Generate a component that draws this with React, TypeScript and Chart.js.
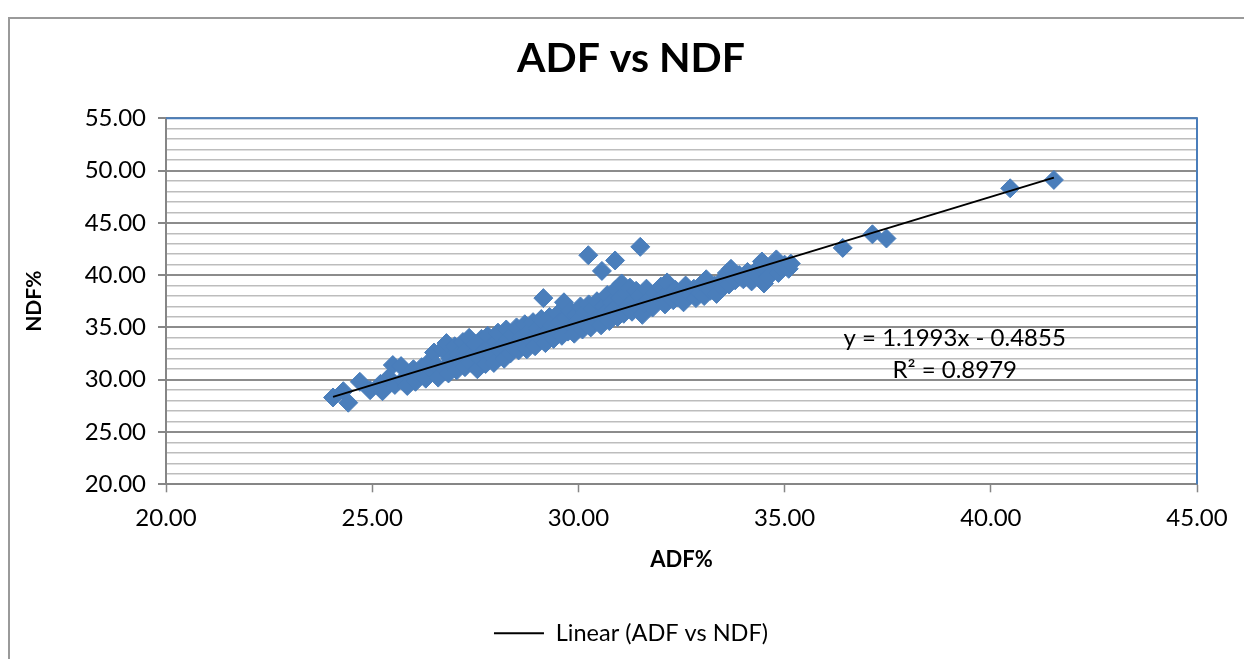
import React, { useEffect, useRef } from "react";
import { Chart, registerables } from "chart.js";

Chart.register(...registerables);

const adf: number[] = [
  24.05, 24.3, 24.42, 24.7, 24.95, 25.2, 25.25, 25.4, 25.5, 25.55,
  25.7, 25.75, 25.85, 25.9, 26.0, 26.05, 26.15, 26.2, 26.3, 26.35,
  26.45, 26.5, 26.55, 26.6, 26.7, 26.75, 26.8, 26.85, 26.9, 26.95,
  27.0, 27.05, 27.1, 27.15, 27.2, 27.25, 27.3, 27.35, 27.4, 27.45,
  27.5, 27.55, 27.6, 27.65, 27.7, 27.75, 27.8, 27.85, 27.9, 27.95,
  28.0, 28.05, 28.1, 28.15, 28.2, 28.25, 28.3, 28.35, 28.4, 28.45,
  28.5, 28.55, 28.6, 28.65, 28.7, 28.75, 28.8, 28.85, 28.9, 28.95,
  29.0, 29.05, 29.1, 29.15, 29.2, 29.25, 29.3, 29.35, 29.4, 29.45,
  29.5, 29.55, 29.6, 29.65, 29.7, 29.75, 29.8, 29.85, 29.9, 29.95,
  30.0, 30.05, 30.1, 30.15, 30.2, 30.24, 30.25, 30.3, 30.35, 30.4,
  30.45, 30.5, 30.55, 30.57, 30.6, 30.65, 30.7, 30.75, 30.8, 30.85,
  30.89, 30.9, 30.95, 31.0, 31.05, 31.1, 31.15, 31.2, 31.25, 31.3,
  31.35, 31.4, 31.45, 31.5, 31.5, 31.55, 31.6, 31.65, 31.7, 31.8,
  31.85, 31.9, 32.0, 32.05, 32.1, 32.15, 32.2, 32.3, 32.35, 32.4,
  32.5, 32.55, 32.6, 32.7, 32.8, 32.85, 32.95, 33.0, 33.05, 33.1,
  33.2, 33.3, 33.35, 33.45, 33.5, 33.6, 33.65, 33.7, 33.8, 33.9,
  34.0, 34.1, 34.2, 34.3, 34.4, 34.45, 34.5, 34.55, 34.6, 34.7,
  34.8, 34.85, 34.9, 35.0, 35.1, 35.15, 36.41, 37.13, 37.47, 40.47,
  41.53,
];

const ndf: number[] = [
  28.3, 28.9, 27.8, 29.8, 29.0, 29.6, 28.9, 30.2, 31.4, 29.5,
  31.3, 30.0, 29.4, 30.6, 31.0, 29.8, 30.4, 31.2, 30.1, 31.6,
  30.8, 32.6, 31.4, 30.2, 32.9, 31.1, 33.5, 30.6, 32.0, 31.5,
  33.2, 30.9, 32.4, 31.8, 33.6, 31.2, 32.9, 34.0, 31.6, 32.5,
  33.4, 31.0, 32.1, 33.9, 32.7, 31.5, 34.2, 33.1, 32.3, 31.6,
  33.6, 34.5, 32.8, 33.2, 32.0, 34.8, 33.9, 32.5, 34.3, 33.0,
  35.0, 32.8, 34.0, 33.5, 35.3, 32.9, 34.6, 33.8, 35.5, 33.2,
  34.9, 34.1, 35.8, 37.8, 33.5, 34.6, 36.0, 35.2, 33.9, 34.8,
  36.3, 35.5, 34.2, 37.4, 35.9, 34.6, 36.6, 35.1, 34.4, 36.2,
  35.6, 37.0, 34.8, 36.4, 35.3, 41.9, 37.2, 35.0, 36.8, 35.7,
  37.5, 36.1, 35.2, 40.4, 37.0, 36.4, 38.1, 35.6, 37.4, 36.7,
  41.4, 38.6, 36.0, 37.8, 39.2, 36.3, 38.2, 37.0, 38.8, 36.5,
  37.6, 38.5, 36.9, 42.7, 38.0, 36.2, 37.3, 38.7, 37.7, 36.9,
  38.3, 37.5, 38.9, 37.9, 37.2, 39.3, 38.2, 37.6, 38.6, 37.9,
  38.4, 37.4, 39.0, 38.1, 38.7, 37.8, 38.3, 39.2, 38.0, 39.6,
  38.5, 39.0, 38.2, 39.4, 38.8, 40.2, 39.1, 40.6, 39.5, 40.0,
  39.6, 40.3, 39.4, 40.0, 40.8, 41.3, 39.2, 40.5, 39.8, 40.9,
  41.5, 40.2, 40.7, 41.0, 40.6, 41.1, 42.6, 43.9, 43.5, 48.3,
  49.1,
];

const trendSlope = 1.1993;
const trendIntercept = -0.4855;
const equationLines: string[] = ["y = 1.1993x - 0.4855", "R² = 0.8979"];

const xTicksRange = { min: 20, max: 45, step: 5 };
const yTicksRange = { min: 20, max: 55, step: 1, major: 5 };

const FONT = "Lato, 'Open Sans', sans-serif";
const BLUE = "#4A7EBB";

export default function App() {
  const canvasRef = useRef<HTMLCanvasElement | null>(null);

  useEffect(() => {
    if (!canvasRef.current) return;
    const points = adf.map((x, i) => ({ x, y: ndf[i] }));
    const xMin = Math.min(...adf);
    const xMax = Math.max(...adf);
    const trend = [
      { x: xMin, y: trendSlope * xMin + trendIntercept },
      { x: xMax, y: trendSlope * xMax + trendIntercept },
    ];

    const framePlugin = {
      id: "framePlugin",
      afterDraw(chart: any) {
        const { ctx, chartArea } = chart;
        const { left, right, top, bottom } = chartArea;
        ctx.save();
        ctx.strokeStyle = BLUE;
        ctx.lineWidth = 2;
        ctx.beginPath();
        ctx.moveTo(left, top);
        ctx.lineTo(right, top);
        ctx.lineTo(right, bottom);
        ctx.stroke();
        ctx.fillStyle = "#000";
        ctx.font = `24px ${FONT}`;
        ctx.textAlign = "center";
        ctx.textBaseline = "middle";
        const cx = left + 0.765 * (right - left);
        ctx.fillText(equationLines[0], cx, top + 0.601 * (bottom - top));
        ctx.fillText(equationLines[1], cx, top + 0.689 * (bottom - top));
        ctx.restore();
      },
    };

    const chart = new Chart(canvasRef.current, {
      type: "scatter",
      data: {
        datasets: [
          {
            label: "Linear (ADF vs NDF)",
            data: trend,
            showLine: true,
            borderColor: "#000",
            backgroundColor: "#000",
            borderWidth: 2,
            pointRadius: 0,
            order: 0,
          } as any,
          {
            label: "ADF vs NDF",
            data: points,
            pointStyle: "rectRot",
            pointRadius: 9.5,
            backgroundColor: BLUE,
            borderColor: BLUE,
            borderWidth: 1,
            order: 1,
          } as any,
        ],
      },
      options: {
        animation: false,
        responsive: false,
        maintainAspectRatio: false,
        layout: { padding: { left: 0, right: 0, top: 0, bottom: 12 } },
        plugins: {
          title: {
            display: true,
            text: "ADF vs NDF",
            color: "#000",
            font: { family: FONT, size: 41, weight: "bold" },
            padding: { top: 15, bottom: 35 },
          },
          legend: {
            display: true,
            position: "bottom",
            labels: {
              filter: (item: any) => item.datasetIndex === 0,
              usePointStyle: true,
              pointStyle: "line",
              pointStyleWidth: 50,
              color: "#000",
              font: { family: FONT, size: 23.5 },
              padding: 14,
            },
          },
          tooltip: { enabled: false },
        },
        scales: {
          x: {
            type: "linear",
            position: "bottom",
            min: xTicksRange.min,
            max: xTicksRange.max,
            ticks: {
              stepSize: xTicksRange.step,
              color: "#000",
              font: { family: FONT, size: 24 },
              padding: 12,
              callback: (v: any) => Number(v).toFixed(2),
            },
            grid: {
              drawOnChartArea: false,
              drawTicks: true,
              tickLength: 8,
              tickColor: "#868686",
              tickWidth: 1.5,
            },
            border: { display: true, color: "#868686", width: 2 },
            title: {
              display: true,
              text: "ADF%",
              color: "#000",
              font: { family: FONT, size: 22, weight: "bold" },
              padding: { top: 2, bottom: 34 },
            },
          },
          y: {
            type: "linear",
            min: yTicksRange.min,
            max: yTicksRange.max,
            afterFit: (scale: any) => {
              scale.width = 156;
            },
            ticks: {
              stepSize: yTicksRange.step,
              autoSkip: false,
              color: "#000",
              font: { family: FONT, size: 24 },
              padding: 12,
              callback: (v: any) =>
                Number(v) % yTicksRange.major === 0 ? Number(v).toFixed(2) : "",
            },
            grid: {
              color: (c: any) =>
                c.tick && c.tick.value % yTicksRange.major === 0 ? "#8c8c8c" : "#bdbdbd",
              lineWidth: (c: any) =>
                c.tick && c.tick.value % yTicksRange.major === 0 ? 2 : 1.5,
              tickLength: 8,
              tickColor: (c: any) =>
                c.tick && c.tick.value % yTicksRange.major === 0 ? "#868686" : "rgba(0,0,0,0)",
            },
            border: { display: true, color: "#868686", width: 2 },
            title: {
              display: true,
              text: "NDF%",
              color: "#000",
              font: { family: FONT, size: 21, weight: "bold" },
              padding: { top: 12, bottom: 0 },
            },
          },
          yRightSpace: {
            type: "linear",
            position: "right",
            display: true,
            min: 0,
            max: 1,
            afterFit: (scale: any) => {
              scale.width = 55;
            },
            ticks: { display: false },
            grid: { display: false, drawOnChartArea: false, drawTicks: false },
            border: { display: false },
          },
        },
      } as any,
      plugins: [framePlugin],
    });
    return () => chart.destroy();
  }, []);

  return (
    <div style={{ position: "relative", width: 1244, height: 651 }}>
      <div
        style={{
          position: "absolute",
          left: 0,
          top: 9,
          width: 1300,
          height: 700,
          border: "2px solid #9a9a9a",
          boxSizing: "border-box",
        }}
      />
      <canvas
        ref={canvasRef}
        width={1242}
        height={648}
        style={{ position: "absolute", left: 2, top: 11, width: 1242, height: 648 }}
      />
    </div>
  );
}
